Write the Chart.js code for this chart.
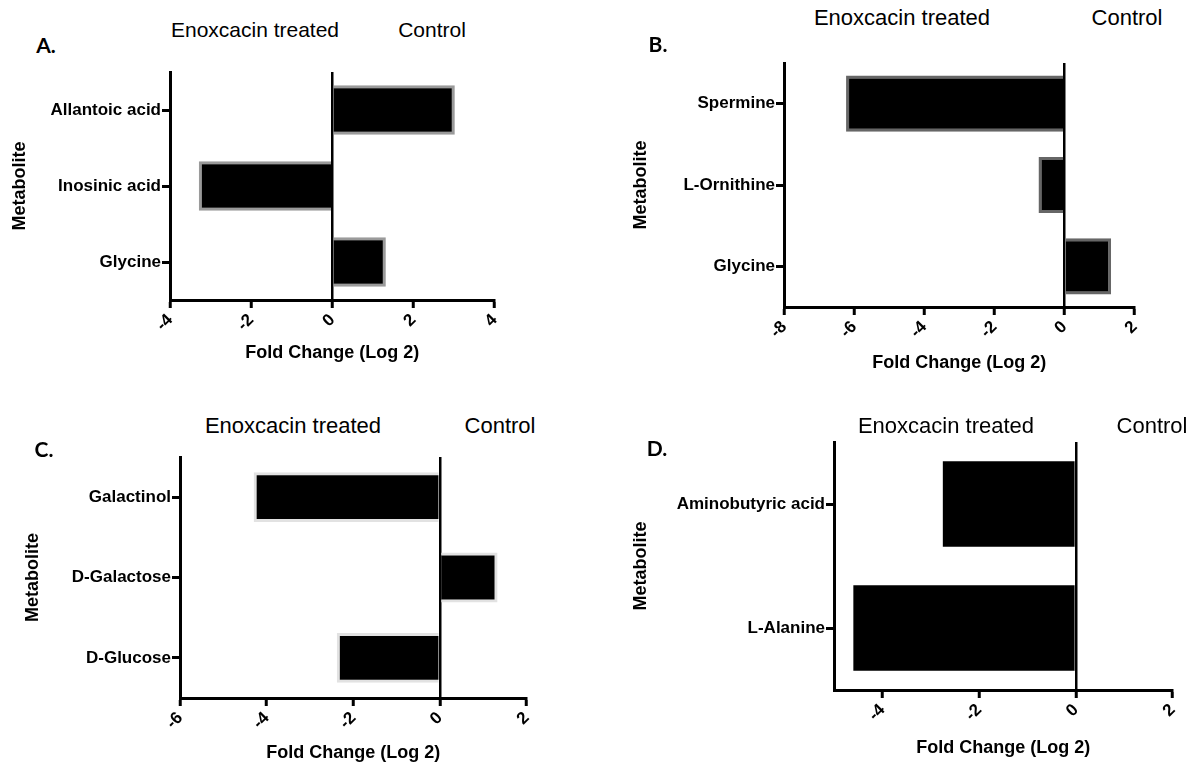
<!DOCTYPE html>
<html>
<head>
<meta charset="utf-8">
<script src="https://cdn.jsdelivr.net/npm/chart.js@4"></script>
<style>
  body { margin: 0; background: #fff; }
  #wrap { position: relative; width: 1189px; height: 764px; overflow: hidden; font-family: "Liberation Sans", Arial, sans-serif; }
  canvas { position: absolute; }
  .lbl { position: absolute; transform: translate(-50%, -50%); white-space: nowrap; color: #000; }
  .grp { font-size: 21px; }
  .pl { font-family: Lato, "Liberation Sans", sans-serif; font-weight: bold; font-size: 21px; }
</style>
</head>
<body>
<div id="wrap">
  <canvas id="chartA"></canvas>
  <canvas id="chartB"></canvas>
  <canvas id="chartC"></canvas>
  <canvas id="chartD"></canvas>
</div>
<script>
// Panel A
const catsA = ["Allantoic acid", "Inosinic acid", "Glycine"];
const valsA = [3.02, -3.29, 1.32];
const ticksA = [-4, -2, 0, 2, 4];
const rangeA = [-4, 4];

// Panel B
const catsB = ["Spermine", "L-Ornithine", "Glycine"];
const valsB = [-6.23, -0.74, 1.33];
const ticksB = [-8, -6, -4, -2, 0, 2];
const rangeB = [-8, 2];

// Panel C
const catsC = ["Galactinol", "D-Galactose", "D-Glucose"];
const valsC = [-4.3, 1.33, -2.38];
const ticksC = [-6, -4, -2, 0, 2];
const rangeC = [-6, 2];

// Panel D
const catsD = ["Aminobutyric acid", "L-Alanine"];
const valsD = [-2.75, -4.6];
const ticksD = [-4, -2, 0, 2];
const rangeD = [-5, 2];

const groupLeft = "Enoxcacin treated";
const groupRight = "Control";
const yTitle = "Metabolite";
const xTitle = "Fold Change (Log 2)";

Chart.defaults.color = "#000";
Chart.defaults.font.family = '"Liberation Sans", Arial, sans-serif';

const wrap = document.getElementById("wrap");

function addText(text, x, y, cls, size) {
  const d = document.createElement("div");
  d.className = "lbl " + cls;
  d.textContent = text;
  d.style.left = x + "px";
  d.style.top = y + "px";
  if (size) d.style.fontSize = size + "px";
  wrap.appendChild(d);
}

// box: canvas placement, yw / xh: axis band sizes
function drawPanel(id, box, yw, xh, cats, vals, ticks, range, style) {
  const cv = document.getElementById(id);
  cv.style.left = box.left + "px";
  cv.style.top = box.top + "px";
  cv.style.width = box.w + "px";
  cv.style.height = box.h + "px";
  cv.width = box.w;
  cv.height = box.h;

  new Chart(cv, {
    type: "bar",
    data: {
      labels: cats,
      datasets: [{
        data: vals,
        backgroundColor: "#000",
        borderColor: style.border,
        borderWidth: style.bw,
        categoryPercentage: 1,
        barPercentage: style.bp
      }]
    },
    options: {
      indexAxis: "y",
      responsive: false,
      animation: false,
      layout: { padding: { top: 12, right: 14, left: 0, bottom: 0 } },
      plugins: { legend: { display: false }, tooltip: { enabled: false } },
      scales: {
        x: {
          min: range[0],
          max: range[1],
          afterBuildTicks: s => { s.ticks = ticks.map(v => ({ value: v })); },
          afterFit: s => { s.height = xh; },
          border: { color: "#000", width: 3 },
          grid: {
            color: c => (c.tick && c.tick.value === 0 ? "#000" : "rgba(0,0,0,0)"),
            lineWidth: 2.5,
            tickColor: "#000",
            tickWidth: 3,
            tickLength: 8
          },
          ticks: {
            autoSkip: false,
            minRotation: 45,
            maxRotation: 45,
            padding: 2,
            font: { size: 17, weight: "bold" }
          },
          title: {
            display: true,
            text: xTitle,
            padding: 0,
            font: { size: 18, weight: "bold" }
          }
        },
        y: {
          offset: true,
          afterFit: s => { s.width = yw; },
          border: { color: "#000", width: 3 },
          grid: {
            offset: false,
            drawOnChartArea: false,
            tickColor: "#000",
            tickWidth: 3,
            tickLength: 8
          },
          ticks: { padding: 1, font: { size: 17, weight: "bold" } },
          title: {
            display: true,
            text: yTitle,
            padding: 0,
            font: { size: 18, weight: "bold" }
          }
        }
      }
    }
  });
}

drawPanel("chartA", { left: 9, top: 60, w: 502, h: 304 }, 161, 64,
  catsA, valsA, ticksA, rangeA, { border: "#9a9a9a", bw: 3, bp: 0.65 });
drawPanel("chartB", { left: 630, top: 51, w: 521, h: 323 }, 154, 67,
  catsB, valsB, ticksB, rangeB, { border: "#666", bw: 3, bp: 0.69 });
drawPanel("chartC", { left: 22, top: 445, w: 521, h: 319 }, 158, 66,
  catsC, valsC, ticksC, rangeC, { border: "#e2e2e2", bw: 3, bp: 0.62 });
drawPanel("chartD", { left: 630, top: 430, w: 559, h: 329 }, 204, 69,
  catsD, valsD, ticksD, rangeD, { border: "#000", bw: 0, bp: 0.69 });

addText("A.", 46, 44, "pl");
addText(groupLeft, 255, 30, "grp", 21);
addText(groupRight, 432, 30, "grp", 21);

addText("B.", 658, 43, "pl");
addText(groupLeft, 902, 18, "grp", 22);
addText(groupRight, 1127, 18, "grp", 22);

addText("C.", 44, 448, "pl");
addText(groupLeft, 293, 426, "grp", 22);
addText(groupRight, 500, 426, "grp", 22);

addText("D.", 657, 447, "pl");
addText(groupLeft, 946, 426, "grp", 22);
addText(groupRight, 1152, 426, "grp", 22);
</script>
</body>
</html>
